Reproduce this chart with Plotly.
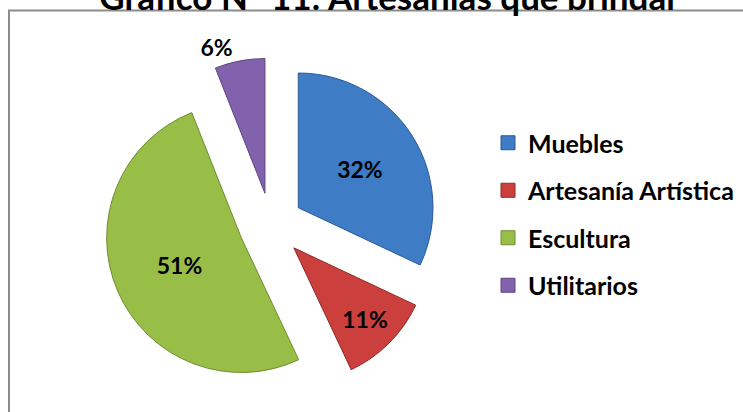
import plotly.graph_objects as go

categories = ["Muebles", "Artesanía Artística", "Escultura", "Utilitarios"]
values = [32, 11, 51, 6]
colors = ["#3E7CC5", "#CB3F3C", "#98BE48", "#8262AD"]
edge_colors = ["#2C5A94", "#8E2A28", "#6E8C32", "#5C467E"]
title_text = "Gráfico N° 11: Artesanías que brindar"

W, H = 743, 412
FONT = "Lato"

fig = go.Figure()

fig.add_trace(go.Pie(
    labels=categories,
    values=values,
    sort=False,
    direction="clockwise",
    rotation=0,
    pull=[0.24] * len(values),
    marker=dict(colors=colors, line=dict(color=edge_colors, width=1)),
    textinfo="percent",
    textposition=["inside", "inside", "inside", "outside"],
    insidetextorientation="horizontal",
    textfont=dict(family=FONT, size=23, color="black", weight="bold"),
    showlegend=False,
    hoverinfo="label+percent",
    domain=dict(x=[104 / W, 438 / W], y=[1 - 392 / H, 1 - 58 / H]),
))

# legend entries
for i, (cat, col) in enumerate(zip(categories, colors)):
    fig.add_trace(go.Scatter(
        x=[None], y=[None], mode="markers", name=cat,
        legendgroup=f"g{i}",
        marker=dict(symbol="square", size=14, color=col,
                    line=dict(color=edge_colors[i], width=1)),
    ))

fig.update_layout(
    width=W, height=H,
    autosize=False,
    margin=dict(l=0, r=0, t=0, b=0, pad=0, autoexpand=False),
    paper_bgcolor="white",
    plot_bgcolor="white",
    xaxis=dict(visible=False),
    yaxis=dict(visible=False),
    title=dict(text=title_text, x=0.524, xanchor="center",
               y=1 - 10 / H, yanchor="bottom",
               font=dict(family=FONT, size=35, color="black", weight="bold")),
    legend=dict(
        x=488 / W, y=1 - 120 / H, xanchor="left", yanchor="top",
        font=dict(family=FONT, size=25, color="black", weight="bold"),
        tracegroupgap=12,
        bgcolor="rgba(0,0,0,0)",
    ),
    shapes=[dict(type="rect", xref="paper", yref="paper",
                 x0=9 / W, x1=1.02, y0=-0.02, y1=1 - 10.5 / H,
                 line=dict(color="#8C8C8C", width=2), layer="below")],
)

fig.write_html("out.html", config={"displayModeBar": False},
               post_script="document.body.style.margin='0';document.body.style.overflow='hidden';")
